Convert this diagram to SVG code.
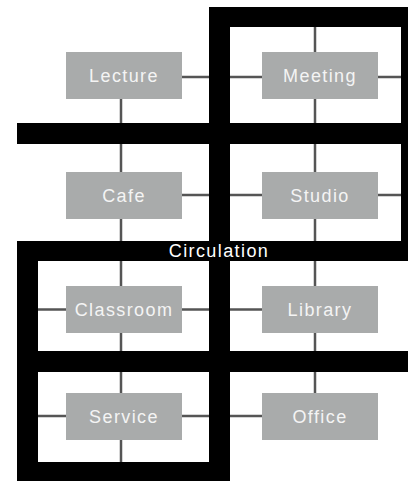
<svg xmlns="http://www.w3.org/2000/svg" width="408" height="481" viewBox="0 0 408 481">
<style>
.bar{fill:#000}
.ln{stroke:#555;stroke-width:2.5;fill:none}
.box{fill:#a9abab}
.lbl{font-family:"Liberation Sans",Arial,sans-serif;font-size:18px;letter-spacing:1.4px;fill:#f4f4f4;text-anchor:middle}
.circ{font-family:"Liberation Sans",Arial,sans-serif;font-size:18px;letter-spacing:1.4px;fill:#fff;text-anchor:middle}
</style>
<rect width="408" height="481" fill="#fff"/>
<g id="circulation">
<rect class="bar" x="209" y="7" width="199" height="20"/>
<rect class="bar" x="401" y="7" width="7" height="254"/>
<rect class="bar" x="209" y="7" width="21" height="474"/>
<rect class="bar" x="17" y="123" width="391" height="21"/>
<rect class="bar" x="17" y="241" width="391" height="20"/>
<rect class="bar" x="17" y="241" width="21" height="240"/>
<rect class="bar" x="17" y="351" width="391" height="21"/>
<rect class="bar" x="17" y="462" width="213" height="19"/>
<text class="circ" x="219" y="257">Circulation</text>
</g>
<g id="connectors">
<path class="ln" d="M182 77H209M121 99V123"/>
<path class="ln" d="M315 27V52M230 77H262M378 77H401M315 99V123"/>
<path class="ln" d="M121 144V172M182 195H209M121 219V241"/>
<path class="ln" d="M315 144V172M230 195H262M378 195H401M315 219V241"/>
<path class="ln" d="M121 261V286M38 309.5H66M182 309.5H209M121 333V351"/>
<path class="ln" d="M315 261V286M230 309.5H262M315 333V351"/>
<path class="ln" d="M121 372V393M38 416H66M182 416H209M121 440V462"/>
<path class="ln" d="M315 372V393M230 416H262"/>
</g>
<g id="lecture"><rect class="box" x="66" y="52" width="116" height="47"/><text class="lbl" x="124" y="82">Lecture</text></g>
<g id="meeting"><rect class="box" x="262" y="52" width="116" height="47"/><text class="lbl" x="320" y="82">Meeting</text></g>
<g id="cafe"><rect class="box" x="66" y="172" width="116" height="47"/><text class="lbl" x="124" y="202">Cafe</text></g>
<g id="studio"><rect class="box" x="262" y="172" width="116" height="47"/><text class="lbl" x="320" y="202">Studio</text></g>
<g id="classroom"><rect class="box" x="66" y="286" width="116" height="47"/><text class="lbl" x="124" y="316">Classroom</text></g>
<g id="library"><rect class="box" x="262" y="286" width="116" height="47"/><text class="lbl" x="320" y="316">Library</text></g>
<g id="service"><rect class="box" x="66" y="393" width="116" height="47"/><text class="lbl" x="124" y="423">Service</text></g>
<g id="office"><rect class="box" x="262" y="393" width="116" height="47"/><text class="lbl" x="320" y="423">Office</text></g>
</svg>
